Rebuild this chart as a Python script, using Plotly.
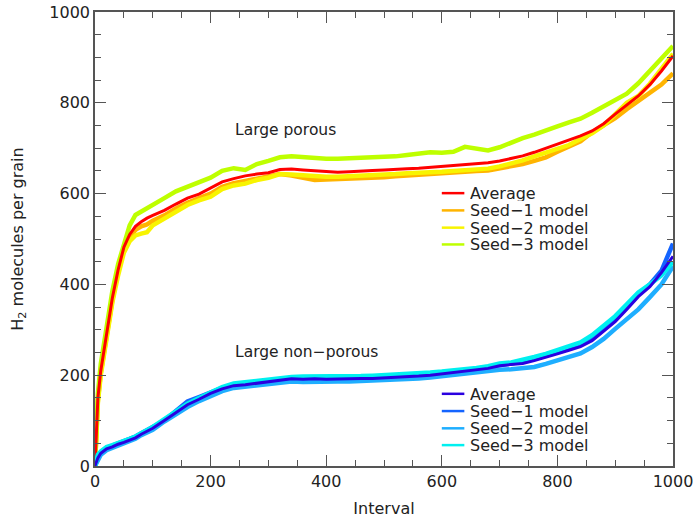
import plotly.graph_objects as go

interval = [0, 5, 10, 20, 30, 40, 50, 60, 70, 80, 90, 100,
            120, 140, 160, 180, 200, 220, 240, 260, 280, 300, 320, 340, 360, 380, 400,
            420, 440, 460, 480, 500, 520, 540, 560, 580, 600, 620, 640, 660, 680, 700,
            720, 740, 760, 780, 800, 820, 840, 860, 880, 900, 920, 940, 960, 980, 1000]

porous_avg = [0, 150, 210, 292, 370, 432, 482, 510, 528, 538, 546, 552,
              563, 577, 590, 599, 612, 626, 633, 639, 643, 646, 653, 654, 652, 650, 648,
              647, 648, 650, 651, 652, 654, 655, 656, 658, 660, 663, 665, 666, 668, 672,
              677, 683, 691, 700, 709, 717, 727, 738, 754, 775, 795, 815, 840, 870, 903]
porous_seed1 = [0, 145, 205, 290, 365, 430, 480, 505, 520, 528, 532, 540,
                552, 567, 580, 590, 600, 615, 623, 628, 633, 637, 643, 640, 635, 630, 631,
                632, 633, 633, 633, 636, 638, 640, 640, 642, 644, 646, 648, 650, 651, 655,
                660, 665, 672, 680, 692, 703, 715, 735, 750, 766, 786, 805, 822, 840, 865]
porous_seed2 = [0, 140, 200, 280, 360, 420, 470, 495, 508, 512, 515, 530,
                545, 562, 575, 585, 593, 610, 618, 622, 630, 635, 643, 642, 640, 638, 637,
                637, 638, 638, 640, 642, 643, 645, 645, 647, 648, 650, 650, 652, 655, 660,
                666, 673, 682, 690, 697, 707, 720, 733, 750, 775, 800, 815, 842, 875, 908]
porous_seed3 = [0, 160, 225, 305, 385, 445, 492, 530, 553, 560, 568, 575,
                590, 605, 615, 623, 635, 650, 656, 652, 665, 672, 680, 682, 680, 680, 677,
                677, 678, 679, 679, 680, 682, 685, 688, 691, 690, 692, 703, 698, 695, 702,
                713, 722, 730, 740, 748, 757, 765, 778, 792, 805, 820, 843, 870, 895, 925]

nonporous_avg = [0, 18, 28, 38, 42, 48, 52, 57, 62, 70, 76, 83,
                 100, 118, 135, 147, 160, 170, 177, 179, 182, 186, 189, 192, 191, 192, 191,
                 192, 192, 193, 193, 194, 195, 197, 198, 200, 203, 206, 208, 211, 215, 221,
                 223, 226, 232, 239, 247, 255, 263, 276, 297, 318, 345, 373, 395, 426, 462]
nonporous_seed1 = [0, 22, 30, 40, 45, 50, 55, 58, 65, 72, 80, 86,
                   100, 122, 142, 152, 163, 172, 180, 178, 183, 188, 190, 195, 190, 190, 192,
                   190, 192, 192, 192, 193, 195, 196, 197, 200, 203, 207, 210, 214, 218, 222,
                   225, 230, 238, 245, 253, 262, 268, 282, 303, 326, 350, 378, 400, 430, 490]
nonporous_seed2 = [0, 15, 25, 35, 40, 45, 50, 55, 60, 68, 75, 80,
                   98, 115, 130, 143, 155, 165, 172, 175, 178, 180, 183, 186, 185, 186, 185,
                   186, 186, 187, 187, 189, 190, 192, 193, 195, 198, 200, 202, 205, 208, 212,
                   213, 215, 218, 225, 232, 240, 248, 262, 280, 302, 322, 345, 372, 400, 440]
nonporous_seed3 = [0, 25, 32, 42, 46, 50, 54, 60, 65, 72, 78, 86,
                   103, 120, 137, 150, 162, 174, 182, 185, 186, 190, 194, 196, 197, 197, 196,
                   197, 197, 198, 199, 200, 201, 203, 204, 206, 208, 210, 213, 216, 220, 226,
                   228, 233, 240, 247, 255, 263, 272, 288, 310, 330, 356, 382, 400, 420, 450]

names = ["Average", "Seed\u22121\u00a0model", "Seed\u22122\u00a0model", "Seed\u22123\u00a0model"]
porous_colors = ["#FF0000", "#FFB400", "#F8F400", "#BEFF00"]
nonporous_colors = ["#2A00E0", "#1464FF", "#1EAEFF", "#00F0F0"]

FONT = "DejaVu Sans"
TXT = "#222222"

fig = go.Figure()

porous_series = [porous_avg, porous_seed1, porous_seed2, porous_seed3]
nonporous_series = [nonporous_avg, nonporous_seed1, nonporous_seed2, nonporous_seed3]

# legend layout (paper coordinates)
leg_x0, leg_x1, leg_tx = 0.600, 0.639, 0.645
leg_rows = {"porous": [0.601, 0.563, 0.525, 0.488],
            "nonporous": [0.159, 0.121, 0.083, 0.046]}

shapes = []
annotations = []
for group, colors, key in [(porous_series, porous_colors, "porous"),
                           (nonporous_series, nonporous_colors, "nonporous")]:
    for i in [1, 2, 3]:
        fig.add_trace(go.Scatter(
            x=interval, y=group[i], mode="lines", name=names[i],
            line=dict(color=colors[i], width=4.5), showlegend=False))
    fig.add_trace(go.Scatter(
        x=interval, y=group[0], mode="lines", name=names[0],
        line=dict(color=colors[0], width=3), showlegend=False))
    for i in range(4):
        yy = leg_rows[key][i]
        shapes.append(dict(type="line", xref="paper", yref="paper",
                           x0=leg_x0, x1=leg_x1, y0=yy, y1=yy,
                           line=dict(color=colors[i], width=2.5)))
        annotations.append(dict(x=leg_tx, y=yy, xref="paper", yref="paper",
                                text=names[i], showarrow=False, xanchor="left",
                                yanchor="middle", height=16, valign="middle",
                                font=dict(family=FONT, size=16, color=TXT)))

annotations += [
    dict(x=239, y=741, xref="x", yref="y", text="Large porous", showarrow=False,
         xanchor="left", yanchor="middle", font=dict(family=FONT, size=15.5, color=TXT)),
    dict(x=239, y=252, xref="x", yref="y", text="Large non\u2212porous", showarrow=False,
         xanchor="left", yanchor="middle", font=dict(family=FONT, size=15.5, color=TXT)),
]

axis_common = dict(
    showline=True, linecolor="#555555", linewidth=1.5, mirror="allticks",
    ticks="inside", ticklen=11, tickcolor="#555555", tickwidth=1,
    showgrid=False, zeroline=False, automargin=False,
    tickfont=dict(family=FONT, size=16, color=TXT),
    minor=dict(dtick=50, ticks="inside", ticklen=6, tickcolor="#555555", tickwidth=1),
)

fig.update_layout(
    width=696, height=518,
    margin=dict(l=95, r=23, t=12, b=52),
    paper_bgcolor="white", plot_bgcolor="white",
    font=dict(family=FONT, size=16, color=TXT),
    showlegend=False,
    xaxis=dict(range=[0, 1000], dtick=200, tick0=0,
               title=dict(text="Interval", standoff=15, font=dict(family=FONT, size=16, color=TXT)),
               **axis_common),
    yaxis=dict(range=[0, 1000], dtick=200, tick0=0,
               title=dict(text="H<sub>2</sub> molecules per grain", standoff=22,
                          font=dict(family=FONT, size=16, color=TXT)),
               **axis_common),
    shapes=shapes,
    annotations=annotations,
)

fig.write_html("out.html")
